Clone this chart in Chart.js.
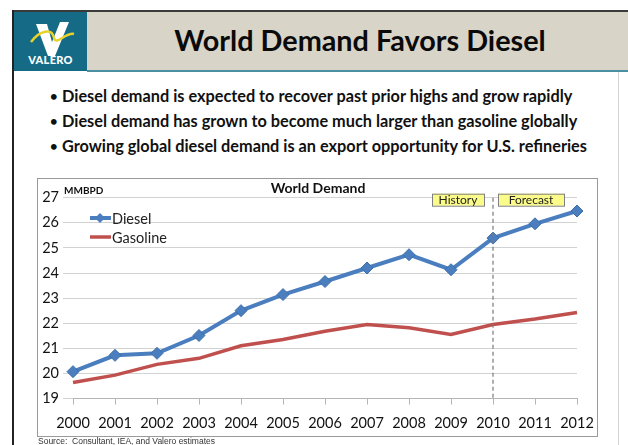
<!DOCTYPE html>
<html>
<head>
<meta charset="utf-8">
<script src="https://cdn.jsdelivr.net/npm/chart.js@4.4.1/dist/chart.umd.min.js"></script>
<style>
  html, body { margin:0; padding:0; background:#fff; width:628px; height:445px; overflow:hidden; font-family: Lato, "Open Sans", sans-serif; }
  .abs { position:absolute; }
  #topline { left:12px; top:10px; width:616px; height:2px; background:#3a3a3a; }
  #leftline { left:12px; top:10px; width:2px; height:435px; background:#222; }
  #rightline { left:618px; top:72px; width:1px; height:373px; background:#d4d4d4; }
  #logo { left:14px; top:12px; width:73px; height:59px; background:#156b86; }
  #band { left:87px; top:12px; width:541px; height:58px; background:#d8d4c8; }
  #bandline { left:87px; top:70px; width:541px; height:2px; background:#4b8fa2; }
  #title { left:87px; top:11px; width:546px; height:58px; line-height:58px; text-align:center; font-weight:700; font-size:28.8px; color:#0a0a0a; }
  #valero { left:14px; top:53px; width:73px; text-align:center; color:#fff; font-weight:900; font-size:11px; letter-spacing:0.3px; }
  .bullet { left:50px; font-weight:700; font-size:16.3px; color:#111; white-space:nowrap; }
  .dot { font-size:13px; display:inline-block; width:12px; vertical-align:1px; }
  #chartbox { left:38px; top:179px; width:560px; height:258px; }
  #frame { left:37px; top:178px; width:561px; height:259px; border:1px solid #9a9a9a; box-sizing:border-box; pointer-events:none; }
  #source { left:38px; top:436px; font-family:"Liberation Sans", Arial, sans-serif; font-size:8.5px; color:#333; }
</style>
</head>
<body>
<div class="abs" id="topline"></div>
<div class="abs" id="leftline"></div>
<div class="abs" id="rightline"></div>
<div class="abs" id="band"></div>
<div class="abs" id="bandline"></div>
<div class="abs" id="logo">
  <svg width="73" height="59" viewBox="0 0 73 59">
    <polygon points="22,12 33,12 38,30 46,10 55,10 41,44 34,44" fill="#fff"/>
    <path d="M17,30 C26,18 38,16 40,26 C42,34 52,20 60,22" stroke="#e8d22a" stroke-width="2.5" fill="none"/>
  </svg>
</div>
<div class="abs" id="valero">VALERO</div>
<div class="abs" id="title">World Demand Favors Diesel</div>
<div class="abs bullet" style="top:86px"><span class="dot">•</span>Diesel demand is expected to recover past prior highs and grow rapidly</div>
<div class="abs bullet" style="top:111px"><span class="dot">•</span>Diesel demand has grown to become much larger than gasoline globally</div>
<div class="abs bullet" style="top:136px"><span class="dot">•</span>Growing global diesel demand is an export opportunity for U.S. refineries</div>
<div class="abs" id="chartbox"><canvas id="c" width="560" height="258"></canvas></div>
<div class="abs" id="frame"></div>
<div class="abs" id="source">Source:&nbsp; Consultant, IEA, and Valero estimates</div>
<script>
const years = ["2000","2001","2002","2003","2004","2005","2006","2007","2008","2009","2010","2011","2012"];
const diesel = [20.07, 20.72, 20.80, 21.51, 22.50, 23.14, 23.66, 24.20, 24.73, 24.13, 25.39, 25.96, 26.47];
const gasoline = [19.64, 19.93, 20.36, 20.60, 21.10, 21.35, 21.68, 21.95, 21.82, 21.55, 21.95, 22.17, 22.43];
const yTicks = [19, 20, 21, 22, 23, 24, 25, 26, 27];
const splitYear = "2010";
const chartTitle = "World Demand";
const unitLabel = "MMBPD";
const phaseLabels = ["History", "Forecast"];

const blue = '#4a7ebf', red = '#c0504d';
const font = 'Lato, "Open Sans", sans-serif';

const overlay = {
  id: 'overlay',
  afterDatasetsDraw(chart) {
    const ctx = chart.ctx, a = chart.chartArea, xs = chart.scales.x;
    ctx.save();
    const sx = xs.getPixelForValue(years.indexOf(splitYear));
    ctx.strokeStyle = '#7a7a7a'; ctx.lineWidth = 1.2; ctx.setLineDash([4,3]);
    ctx.beginPath(); ctx.moveTo(sx, a.top); ctx.lineTo(sx, a.bottom); ctx.stroke();
    ctx.setLineDash([]);
    const boxes = [[sx-61, 52, phaseLabels[0]], [sx+5, 66, phaseLabels[1]]];
    ctx.font = '12px ' + font; ctx.textAlign = 'center'; ctx.textBaseline = 'middle';
    for (const [bx, bw, t] of boxes) {
      ctx.fillStyle = '#fbfb8a'; ctx.fillRect(bx, a.top - 4, bw, 12);
      ctx.strokeStyle = '#7f7f7f'; ctx.lineWidth = 1; ctx.strokeRect(bx+0.5, a.top - 3.5, bw, 12);
      ctx.fillStyle = '#222'; ctx.fillText(t, bx + bw/2, a.top + 2.5);
    }
    ctx.fillStyle = '#111'; ctx.font = 'bold 14px ' + font;
    ctx.fillText(chartTitle, 280, 9);
    ctx.font = 'bold 10px ' + font; ctx.textAlign = 'left';
    ctx.fillText(unitLabel, 26, 12);
    const ds = chart.data.datasets;
    const rows = [[ds[0], 39, true], [ds[1], 58, false]];
    ctx.font = '14.5px ' + font;
    for (const [d, y, marker] of rows) {
      ctx.strokeStyle = d.borderColor; ctx.lineWidth = d.borderWidth;
      ctx.beginPath(); ctx.moveTo(52, y); ctx.lineTo(73, y); ctx.stroke();
      if (marker) {
        ctx.fillStyle = d.pointBackgroundColor; ctx.beginPath();
        ctx.moveTo(62, y-5); ctx.lineTo(67, y); ctx.lineTo(62, y+5); ctx.lineTo(57, y); ctx.closePath(); ctx.fill();
      }
      ctx.fillStyle = '#222'; ctx.fillText(d.label, 74, y + 1);
    }
    ctx.restore();
  }
};

new Chart(document.getElementById('c'), {
  type: 'line',
  data: {
    labels: years,
    datasets: [
      { label: 'Diesel', data: diesel, borderColor: blue, borderWidth: 4, pointStyle: 'rectRot', pointRadius: 6,
        pointBackgroundColor: blue, pointBorderColor: '#3d6eaa', pointBorderWidth: 1, tension: 0 },
      { label: 'Gasoline', data: gasoline, borderColor: red, borderWidth: 3.5, pointRadius: 0, tension: 0 }
    ]
  },
  options: {
    responsive: false, animation: false, devicePixelRatio: 1,
    layout: { padding: { top: 18.7, right: 21, left: 0, bottom: 0 } },
    plugins: { legend: { display: false }, title: { display: false }, tooltip: { enabled: false } },
    scales: {
      x: {
        offset: false,
        grid: { drawOnChartArea: false, drawTicks: true, tickLength: 6, color: '#b5b5b5' },
        border: { display: true, color: '#b5b5b5', width: 1 },
        ticks: { color: '#111', font: { family: font, size: 14.5 }, padding: 10, maxRotation: 0, autoSkip: false },
        afterFit(s) { s.height = 38.5; s.paddingLeft = 0; s.paddingRight = 0; }
      },
      y: {
        min: 19, max: 27,
        afterBuildTicks(s) { s.ticks = yTicks.map(v => ({ value: v })); },
        grid: { color: '#d2d2d2', drawTicks: true, tickLength: 10, lineWidth: 1 },
        border: { display: false },
        ticks: { color: '#111', font: { family: font, size: 14.5 }, padding: 4 },
        afterFit(s) { s.width = 35; s.paddingTop = 0; s.paddingBottom = 0; }
      }
    }
  },
  plugins: [overlay]
});
</script>
</body>
</html>
